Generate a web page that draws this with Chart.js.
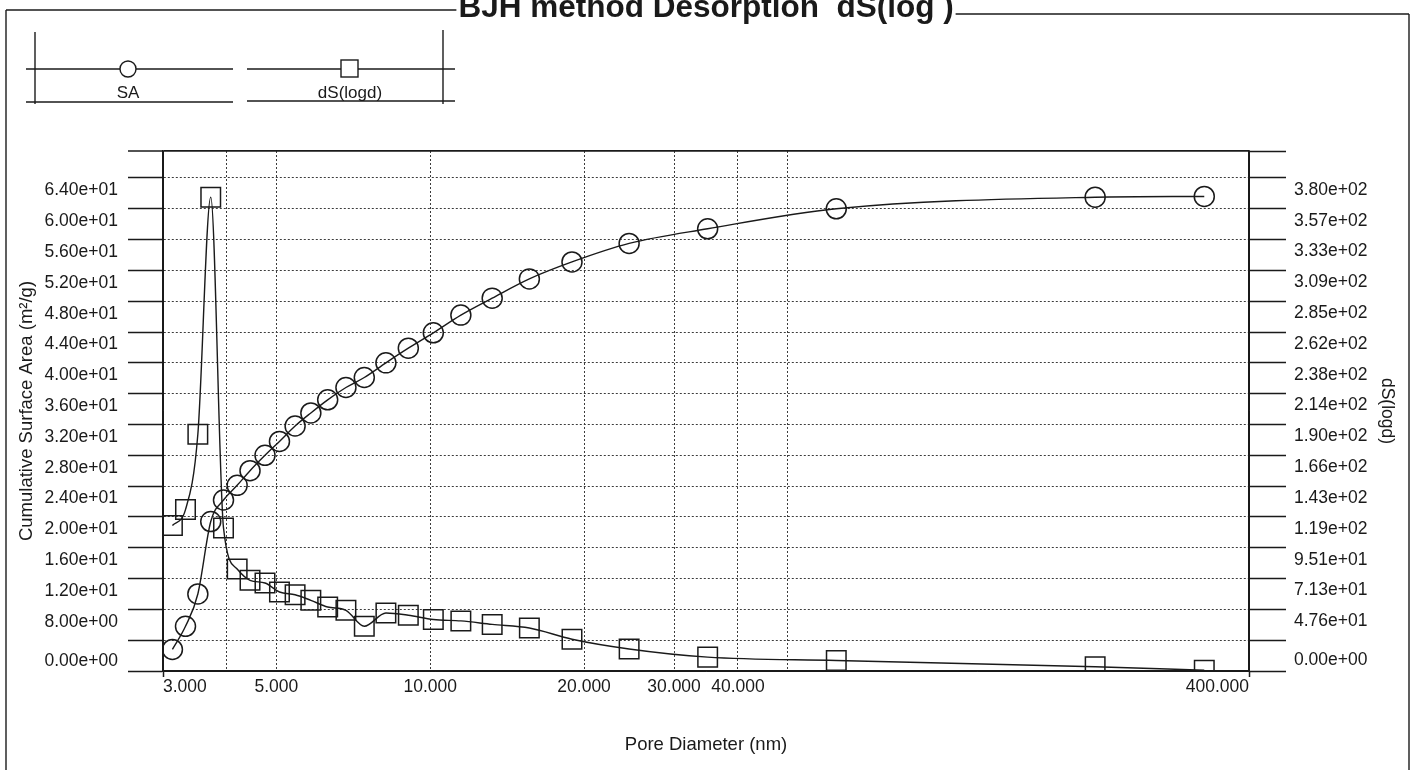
<!DOCTYPE html>
<html>
<head>
<meta charset="utf-8">
<title>BJH method Desorption dS(log )</title>
<script src="https://cdn.jsdelivr.net/npm/chart.js@4.4.1/dist/chart.umd.min.js"></script>
<style>
  html, body { margin: 0; padding: 0; background: #fff; overflow: hidden; }
  .chart-box { position: relative; width: 1412px; height: 770px; }
</style>
</head>
<body>
<div class="chart-box"><canvas id="bjhChart"></canvas></div>
<script>
// pore diameter (nm) - both series share it
const poreDiameter = [3.13, 3.32, 3.51, 3.72, 3.94, 4.19, 4.44, 4.75, 5.07, 5.44, 5.84, 6.30, 6.84, 7.43, 8.19, 9.06, 10.14, 11.48, 13.22, 15.63, 18.94, 24.5, 34.9, 62.3, 200, 327]
// cumulative surface area (m²/g)
const surfaceArea = [2.8, 5.8, 10.0, 19.4, 22.2, 24.1, 26.0, 28.0, 29.8, 31.8, 33.5, 35.2, 36.8, 38.1, 40.0, 41.9, 43.9, 46.2, 48.4, 50.9, 53.1, 55.5, 57.4, 60.0, 61.5, 61.6]
// dS(logd)
const dSlogd = [112.2, 124.4, 182.5, 365.2, 110.3, 78.6, 69.9, 67.8, 60.9, 58.8, 54.5, 49.3, 46.8, 34.5, 44.7, 43.0, 39.7, 38.6, 35.9, 33.1, 24.5, 17.0, 10.7, 8.1, 3.3, 0.6]

const xTickValues = [3, 4, 5, 10, 20, 30, 40, 50, 400]
const xTickLabels = ['3.000', '', '5.000', '10.000', '20.000', '30.000', '40.000', '', '400.000']
const leftTickValues = [0, 4, 8, 12, 16, 20, 24, 28, 32, 36, 40, 44, 48, 52, 56, 60, 64]
const leftTickLabels = ['0.00e+00', '', '8.00e+00', '1.20e+01', '1.60e+01', '2.00e+01', '2.40e+01', '2.80e+01', '3.20e+01',
  '3.60e+01', '4.00e+01', '4.40e+01', '4.80e+01', '5.20e+01', '5.60e+01', '6.00e+01', '6.40e+01']
const rightTickValues = [0, 23.75, 47.5, 71.25, 95, 118.75, 142.5, 166.25, 190, 213.75, 237.5, 261.25, 285, 308.75, 332.5, 356.25, 380]
const rightTickLabels = ['0.00e+00', '', '4.76e+01', '7.13e+01', '9.51e+01', '1.19e+02', '1.43e+02', '1.66e+02', '1.90e+02',
  '2.14e+02', '2.38e+02', '2.62e+02', '2.85e+02', '3.09e+02', '3.33e+02', '3.57e+02', '3.80e+02']

const titleText = 'BJH method Desorption  dS(log )'
const LEFT_MAX = 67.5
const RIGHT_MAX = 400.78

const ink = '#1a1a1a'
const dotted = '#3c3c3c'
const gridDash = [2, 2]
const fontFamily = '"Liberation Sans", Arial, sans-serif'
Chart.defaults.font.family = fontFamily
Chart.defaults.color = ink

const isTick = (c, values) => !!c.tick && values.includes(c.tick.value)

const seg = (ctx, x1, y1, x2, y2) => {
    ctx.beginPath()
    ctx.moveTo(x1, y1)
    ctx.lineTo(x2, y2)
    ctx.stroke()
}

// white page, outer frame with the heading set into its top edge, and the legend box
const framePlugin = {
    id: 'frame',
    beforeDraw(chart) {
        const {ctx, width, height} = chart
        ctx.save()
        ctx.fillStyle = '#fff'
        ctx.fillRect(0, 0, width, height)
        ctx.restore()
    },
    afterDraw(chart) {
        const {ctx, chartArea} = chart
        ctx.save()
        ctx.strokeStyle = ink
        ctx.fillStyle = ink
        ctx.lineWidth = 1.4

        const cx = (chartArea.left + chartArea.right) / 2
        ctx.font = 'bold 31.5px ' + fontFamily
        ctx.textAlign = 'center'
        ctx.textBaseline = 'alphabetic'
        const tw = ctx.measureText(titleText).width
        ctx.fillText(titleText, cx, 17)
        seg(ctx, 6, 10, cx - tw / 2 - 2, 10)
        seg(ctx, cx + tw / 2 + 2, 14, 1409, 14)
        seg(ctx, 6, 10, 6, chart.height)
        seg(ctx, 1409, 14, 1409, chart.height)

        // legend
        seg(ctx, 35, 32, 35, 104)
        seg(ctx, 443, 30, 443, 104)
        seg(ctx, 26, 69, 233, 69)
        seg(ctx, 247, 69, 455, 69)
        seg(ctx, 26, 102, 233, 102)
        seg(ctx, 247, 101, 455, 101)

        ctx.fillStyle = '#fff'
        ctx.beginPath()
        ctx.arc(128, 69, 8, 0, Math.PI * 2)
        ctx.fill()
        ctx.stroke()
        ctx.fillRect(341, 60, 17, 17)
        ctx.strokeRect(341, 60, 17, 17)

        ctx.fillStyle = ink
        ctx.font = '17px ' + fontFamily
        ctx.textBaseline = 'middle'
        ctx.fillText(chart.data.datasets[0].label, 128, 93)
        ctx.fillText(chart.data.datasets[1].label, 350, 93)
        ctx.restore()
    }
}

// y tick labels sit a little below their grid lines, the zero label just above the axis
const yLabelPlugin = {
    id: 'yLabels',
    afterDraw(chart) {
        const ctx = chart.ctx
        const left = chart.scales.y
        const right = chart.scales.y2
        ctx.save()
        ctx.fillStyle = ink
        ctx.font = '17.5px ' + fontFamily
        ctx.textBaseline = 'middle'
        ctx.textAlign = 'right'
        leftTickValues.forEach((v, i) => {
            const y = left.getPixelForValue(v) + (v === 0 ? -10 : 12.5)
            ctx.fillText(leftTickLabels[i], left.right - 45, y)
        })
        ctx.textAlign = 'left'
        rightTickValues.forEach((v, i) => {
            const y = right.getPixelForValue(v) + (v === 0 ? -11 : 12)
            ctx.fillText(rightTickLabels[i], right.left + 45, y)
        })
        ctx.restore()
    }
}

const seriesStyle = {
    borderColor: ink,
    borderWidth: 1.4,
    backgroundColor: 'rgba(0,0,0,0)',
    pointBorderColor: ink,
    pointBackgroundColor: 'rgba(0,0,0,0)',
    pointBorderWidth: 1.5,
    cubicInterpolationMode: 'monotone',
    clip: 0
}

new Chart(document.getElementById('bjhChart'), {
    type: 'line',
    data: {
        datasets: [
            {
                ...seriesStyle,
                label: 'SA',
                data: poreDiameter.map((d, i) => ({x: d, y: surfaceArea[i]})),
                yAxisID: 'y',
                pointStyle: 'circle',
                pointRadius: 10
            },
            {
                ...seriesStyle,
                label: 'dS(logd)',
                data: poreDiameter.map((d, i) => ({x: d, y: dSlogd[i]})),
                yAxisID: 'y2',
                pointStyle: 'rect',
                pointRadius: 13.8
            }
        ]
    },
    options: {
        responsive: true,
        maintainAspectRatio: false,
        animation: false,
        events: [],
        layout: {padding: {top: 151, left: 0, right: 0, bottom: 0}},
        plugins: {legend: {display: false}, tooltip: {enabled: false}},
        scales: {
            x: {
                type: 'logarithmic',
                min: 3,
                max: 400,
                afterBuildTicks: s => { s.ticks = xTickValues.map(v => ({value: v})) },
                afterFit: s => { s.height = 99 },
                grid: {
                    color: c => isTick(c, [3, 400]) ? ink : dotted,
                    lineWidth: 1,
                    tickLength: 6,
                    tickWidth: 1.5,
                    tickColor: c => isTick(c, [3, 400]) ? ink : 'rgba(0,0,0,0)',
                    tickBorderDash: []
                },
                border: {color: ink, width: 1.8, dash: c => isTick(c, [3, 400]) ? [] : gridDash},
                ticks: {
                    autoSkip: false,
                    maxRotation: 0,
                    align: 'inner',
                    padding: 0,
                    color: ink,
                    font: {size: 17.5},
                    callback: (v, i) => xTickLabels[i]
                },
                title: {display: true, text: 'Pore Diameter (nm)', color: ink, font: {size: 18.5}, padding: {top: 0, bottom: 14}}
            },
            y: {
                position: 'left',
                min: 0,
                max: LEFT_MAX,
                afterBuildTicks: s => { s.ticks = leftTickValues.concat([LEFT_MAX]).map(v => ({value: v})) },
                afterFit: s => { s.width = 163 },
                grid: {
                    color: c => isTick(c, [0, LEFT_MAX]) ? ink : dotted,
                    lineWidth: c => isTick(c, [LEFT_MAX]) ? 1.8 : 1,
                    tickLength: 35,
                    tickWidth: 1.5,
                    tickColor: ink,
                    tickBorderDash: []
                },
                border: {color: ink, width: 1.8, dash: c => isTick(c, [0, LEFT_MAX]) ? [] : gridDash},
                ticks: {display: false},
                title: {display: true, text: 'Cumulative Surface Area (m²/g)', color: ink, font: {size: 18.5}, padding: {top: 16, bottom: 0}}
            },
            y2: {
                position: 'right',
                min: 0,
                max: RIGHT_MAX,
                afterBuildTicks: s => { s.ticks = rightTickValues.concat([RIGHT_MAX]).map(v => ({value: v})) },
                afterFit: s => { s.width = 163 },
                grid: {
                    drawOnChartArea: false,
                    tickLength: 37,
                    tickWidth: 1.5,
                    tickColor: ink,
                    tickBorderDash: []
                },
                border: {color: ink, width: 1.8},
                ticks: {display: false},
                title: {display: true, text: 'dS(logd)', color: ink, font: {size: 17.5}, padding: {top: 14.5, bottom: 0}}
            }
        }
    },
    plugins: [framePlugin, yLabelPlugin]
})
</script>
</body>
</html>
